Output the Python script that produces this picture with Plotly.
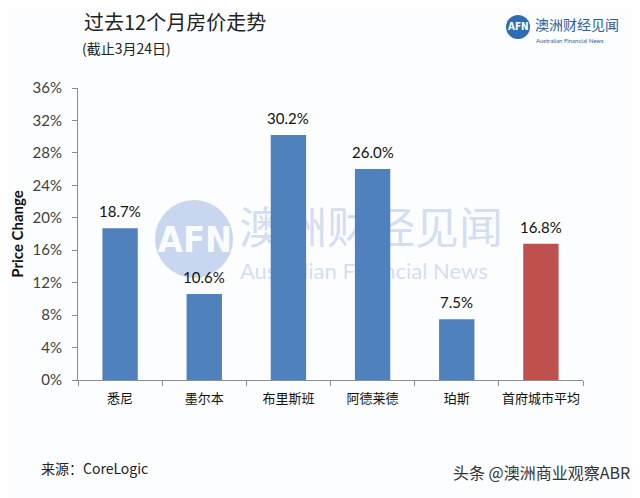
import plotly.graph_objects as go

cities = ["悉尼", "墨尔本", "布里斯班", "阿德莱德", "珀斯", "首府城市平均"]
changes = [18.7, 10.6, 30.2, 26.0, 7.5, 16.8]
bar_colors = ["#4F81BD", "#4F81BD", "#4F81BD", "#4F81BD", "#4F81BD", "#C0504D"]
y_ticks = [0, 4, 8, 12, 16, 20, 24, 28, 32, 36]
y_tick_text = [f"{v}%" for v in y_ticks]
labels = [f"{v:.1f}%" for v in changes]

CJK = "Noto Sans CJK SC"
NUM = "Lato, 'Noto Sans', sans-serif"
NARROW = "'Liberation Sans Narrow', 'DejaVu Sans Condensed', sans-serif"

# The page body has an 8px margin, so the figure is 632x490 and drawn at (8, 8).
# Plot area in reference pixels: x 78..583, y 88..380
def px(x):
    return (x - 78) / 505
def py(y):
    return (380 - y) / 292

WM = "rgba(175,195,228,0.55)"

fig = go.Figure()
# watermark on the base (hidden) axes so the bars cover it
fig.add_trace(go.Scatter(
    x=[px(195), px(239), px(240)], y=[py(243), py(233), py(273)],
    mode="text",
    text=["<b>AFN</b>", "澳洲财经见闻", "Australian Financial News"],
    textposition=["middle center", "middle right", "middle right"],
    textfont=dict(family=[NARROW, CJK, NUM], size=[36, 44, 22],
                  color=["rgba(255,255,255,0.92)", WM, WM]),
    hoverinfo="skip", xaxis="x", yaxis="y", cliponaxis=False,
))
fig.add_trace(go.Bar(
    x=cities, y=changes, xaxis="x2", yaxis="y2",
    marker=dict(color=bar_colors, line=dict(width=0)),
    width=0.42, hoverinfo="x+y",
))

ann = []
for c, v, t in zip(cities, changes, labels):
    ann.append(dict(text=t, x=c, y=v, xref="x2", yref="y2",
                    xanchor="center", yanchor="bottom", yshift=6, showarrow=False,
                    font=dict(family=NUM, size=15, color="#111111")))
ann.append(dict(text="过去12个月房价走势", x=px(82), y=py(21), xref="paper", yref="paper",
                xanchor="left", yanchor="middle", showarrow=False,
                font=dict(family=CJK, size=20, color="#222222")))
ann.append(dict(text="(截止3月24日)", x=px(80), y=py(48), xref="paper", yref="paper",
                xanchor="left", yanchor="middle", showarrow=False,
                font=dict(family=CJK, size=14, color="#222222")))
ann.append(dict(text="来源：CoreLogic", x=px(39), y=py(468), xref="paper", yref="paper",
                xanchor="left", yanchor="middle", showarrow=False,
                font=dict(family=CJK, size=14, color="#222222")))
ann.append(dict(text="头条 @澳洲商业观察ABR", x=px(632), y=py(472), xref="paper", yref="paper",
                xanchor="right", yanchor="middle", showarrow=False,
                font=dict(family=CJK, size=16, color="#333333")))
# top-right logo
ann.append(dict(text="<b>AFN</b>", x=px(518), y=py(27), xref="paper", yref="paper",
                xanchor="center", yanchor="middle", showarrow=False,
                font=dict(family=NARROW, size=10, color="white")))
ann.append(dict(text="澳洲财经见闻", x=px(533), y=py(24), xref="paper", yref="paper",
                xanchor="left", yanchor="middle", showarrow=False,
                font=dict(family=CJK, size=14, color="#2E5E9E")))
ann.append(dict(text="Australian Financial News", x=px(534), y=py(40), xref="paper", yref="paper",
                xanchor="left", yanchor="middle", showarrow=False,
                font=dict(family=NUM, size=6, color="#2E5E9E")))

shapes = [
    dict(type="circle", xref="paper", yref="paper",
         x0=px(155), x1=px(233), y0=py(278), y1=py(200),
         fillcolor="rgba(165,190,228,0.6)", line=dict(width=0), layer="below"),
    dict(type="circle", xref="paper", yref="paper",
         x0=px(506), x1=px(530), y0=py(39), y1=py(15),
         fillcolor="#2E6DB4", line=dict(width=0)),
]

fig.update_layout(
    width=632, height=490,
    margin=dict(l=70, r=57, t=80, b=118),
    paper_bgcolor="#FCFDFF", plot_bgcolor="#FCFDFF",
    showlegend=False,
    annotations=ann, shapes=shapes,
    bargap=0.58,
    font=dict(family=NUM),
    xaxis=dict(range=[0, 1], visible=False, fixedrange=True, automargin=False),
    yaxis=dict(range=[0, 1], visible=False, fixedrange=True, automargin=False),
    xaxis2=dict(
        overlaying="x", side="bottom", anchor="y2",
        showline=True, linecolor="#8C8C8C", linewidth=1,
        ticks="outside", tickson="boundaries", ticklen=5, tickcolor="#8C8C8C",
        tickfont=dict(family=CJK, size=13, color="#111111"),
        ticklabelstandoff=6,
        tickangle=0, showgrid=False, fixedrange=True, automargin=False,
    ),
    yaxis2=dict(
        overlaying="y", side="left", anchor="x2",
        range=[0, 36], tickvals=y_ticks, ticktext=y_tick_text,
        showline=True, linecolor="#8C8C8C", linewidth=1,
        ticks="outside", ticklen=5, tickcolor="#8C8C8C",
        tickfont=dict(family=NUM, size=15, color="#404040"),
        ticklabelstandoff=7,
        showgrid=False, zeroline=False, automargin=False, fixedrange=True,
        title=dict(text="<b>Price Change</b>", standoff=10,
                   font=dict(family=NUM, size=15, color="#111111")),
    ),
)

fig.write_html("out.html")
